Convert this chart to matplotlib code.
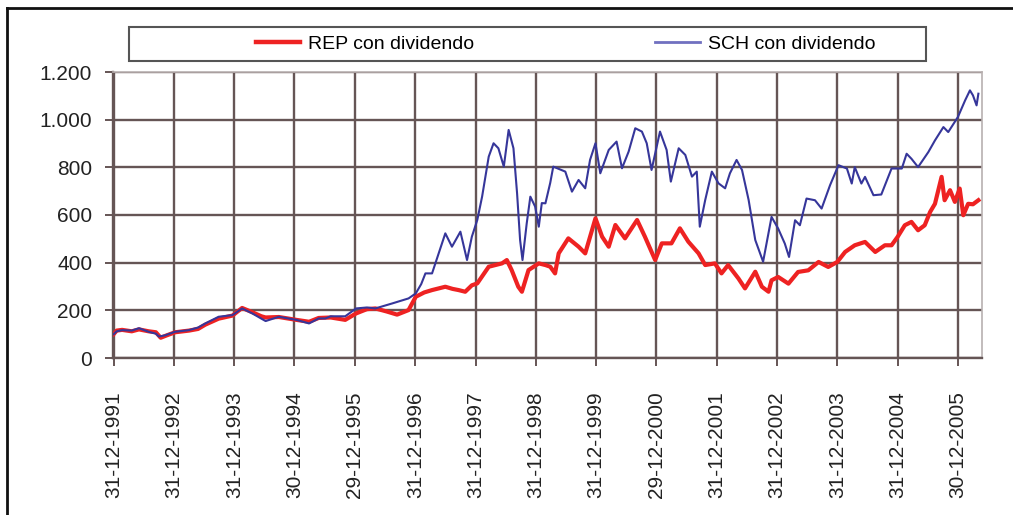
import numpy as np
import pandas as pd
import matplotlib
matplotlib.use("Agg")
import matplotlib.pyplot as plt
from matplotlib.lines import Line2D
from matplotlib.patches import Rectangle
from matplotlib.ticker import FuncFormatter

plt.rcParams['font.family'] = ['Liberation Sans', 'DejaVu Sans']

# values (time as decimal years, 1992.0 = 31-12-1991)
sch_year = [1992.00, 1992.05, 1992.14, 1992.30, 1992.42, 1992.58, 1992.70, 1992.75, 1992.85,
            1993.02, 1993.25, 1993.40, 1993.52, 1993.74, 1993.97, 1994.13, 1994.30, 1994.45,
            1994.52, 1994.74, 1995.03, 1995.24, 1995.40, 1995.51, 1995.60, 1995.84, 1996.02,
            1996.20, 1996.34, 1996.62, 1996.89, 1997.01, 1997.10, 1997.17, 1997.28, 1997.39,
            1997.50, 1997.61, 1997.75, 1997.86, 1997.94, 1998.03, 1998.11, 1998.22, 1998.30,
            1998.38, 1998.47, 1998.55, 1998.63, 1998.69, 1998.74, 1998.78, 1998.85, 1998.91,
            1998.99, 1999.05, 1999.10, 1999.16, 1999.24, 1999.29, 1999.49, 1999.60, 1999.71,
            1999.82, 1999.90, 1999.99, 2000.07, 2000.21, 2000.34, 2000.43, 2000.54, 2000.65,
            2000.76, 2000.84, 2000.92, 2001.06, 2001.17, 2001.24, 2001.37, 2001.48, 2001.59,
            2001.67, 2001.72, 2001.81, 2001.92, 2002.03, 2002.14, 2002.22, 2002.33, 2002.42,
            2002.53, 2002.64, 2002.77, 2002.91, 2003.02, 2003.13, 2003.20, 2003.30, 2003.38,
            2003.49, 2003.63, 2003.74, 2003.88, 2004.02, 2004.16, 2004.24, 2004.29, 2004.40,
            2004.46, 2004.60, 2004.73, 2004.90, 2005.07, 2005.15, 2005.23, 2005.34, 2005.51,
            2005.62, 2005.76, 2005.84, 2006.00, 2006.12, 2006.20, 2006.25, 2006.31, 2006.34]
sch_value = [100, 112, 117, 115, 125, 110, 102, 90, 95,
             110, 117, 128, 145, 173, 180, 208, 187, 165,
             155, 173, 160, 145, 166, 166, 175, 175, 208,
             212, 208, 229, 250, 271, 310, 355, 355, 439,
             523, 467, 530, 411, 509, 579, 677, 845, 901,
             880, 803, 957, 880, 691, 495, 411, 565, 677,
             635, 551, 650, 649, 735, 803, 782, 698, 747,
             712, 831, 901, 775, 873, 908, 796, 866, 964,
             950, 901, 789, 950, 873, 740, 880, 852, 761,
             782, 551, 663, 782, 733, 712, 775, 831, 789,
             663, 495, 404, 592, 543, 480, 424, 578, 557,
             669, 662, 627, 725, 809, 795, 732, 801, 732,
             760, 683, 686, 795, 795, 857, 836, 801, 864,
             913, 969, 948, 1011, 1081, 1123, 1102, 1060, 1109]

rep_year = [1992.00, 1992.05, 1992.14, 1992.30, 1992.42, 1992.58, 1992.70, 1992.78, 1992.88,
            1993.02, 1993.25, 1993.40, 1993.52, 1993.74, 1993.97, 1994.13, 1994.30, 1994.45,
            1994.52, 1994.74, 1995.03, 1995.24, 1995.40, 1995.60, 1995.84, 1996.02, 1996.20,
            1996.34, 1996.53, 1996.70, 1996.89, 1997.01, 1997.15, 1997.28, 1997.50, 1997.62,
            1997.72, 1997.83, 1997.94, 1998.03, 1998.22, 1998.44, 1998.52, 1998.60, 1998.71,
            1998.77, 1998.88, 1999.05, 1999.16, 1999.24, 1999.32, 1999.38, 1999.54, 1999.71,
            1999.82, 1999.99, 2000.10, 2000.21, 2000.32, 2000.48, 2000.68, 2000.81, 2000.98,
            2001.09, 2001.25, 2001.39, 2001.53, 2001.70, 2001.81, 2001.97, 2002.08, 2002.19,
            2002.36, 2002.47, 2002.64, 2002.75, 2002.86, 2002.91, 2003.02, 2003.19, 2003.35,
            2003.52, 2003.69, 2003.85, 2004.00, 2004.13, 2004.29, 2004.46, 2004.63, 2004.79,
            2004.90, 2005.00, 2005.12, 2005.23, 2005.34, 2005.45, 2005.54, 2005.62, 2005.73,
            2005.78, 2005.87, 2005.95, 2006.03, 2006.09, 2006.17, 2006.25, 2006.34]
rep_value = [100, 115, 118, 112, 120, 112, 108, 85, 95,
             108, 115, 122, 140, 165, 178, 210, 192, 175,
             170, 172, 160, 152, 168, 170, 160, 187, 205,
             208, 195, 182, 201, 257, 275, 285, 299, 290,
             285, 278, 305, 313, 383, 397, 411, 369, 299,
             278, 369, 397, 390, 383, 355, 439, 502, 467,
             439, 586, 509, 467, 558, 502, 579, 509, 411,
             481, 481, 544, 488, 439, 390, 397, 355, 390,
             334, 292, 362, 299, 278, 326, 340, 312, 361,
             368, 403, 382, 403, 445, 473, 487, 445, 473,
             473, 508, 557, 571, 536, 557, 613, 647, 760,
             662, 704, 655, 711, 599, 647, 645, 662]

tick_dates = ['1991-12-31', '1992-12-31', '1993-12-31', '1994-12-30', '1995-12-29',
              '1996-12-31', '1997-12-31', '1998-12-31', '1999-12-31', '2000-12-29',
              '2001-12-31', '2002-12-31', '2003-12-31', '2004-12-31', '2005-12-30']
tick_labels = ['31-12-1991', '31-12-1992', '31-12-1993', '30-12-1994', '29-12-1995',
               '31-12-1996', '31-12-1997', '31-12-1998', '31-12-1999', '29-12-2000',
               '31-12-2001', '31-12-2002', '31-12-2003', '31-12-2004', '30-12-2005']

base = pd.Timestamp('1991-12-31')
def to_date(years):
    return base + pd.to_timedelta((np.array(years) - 1992.0) * 365.25, unit='D')

fig = plt.figure(figsize=(10.13, 5.15), dpi=100)
ax = fig.add_axes([113/1013, 1 - 358/515, (982-113)/1013, (358-72)/515])

grid_col = '#655555'
ax.plot(to_date(rep_year), rep_value, color='#ee2222', lw=3.0, zorder=3)
ax.plot(to_date(sch_year), sch_value, color='#36369a', lw=1.5, zorder=4)

ax.set_ylim(0, 1200)
ax.set_xlim(pd.Timestamp('1991-12-27'), to_date([2006.40])[0])
ax.set_yticks(range(0, 1201, 200))
ax.yaxis.set_major_formatter(FuncFormatter(lambda v, p: f"{int(v):,}".replace(',', '.')))
ax.set_xticks(pd.to_datetime(tick_dates))
ax.set_xticklabels(tick_labels, rotation=90)

ax.grid(True, color=grid_col, lw=1.7)
ax.set_axisbelow(True)
ax.tick_params(axis='y', length=6, width=1.4, color=grid_col, pad=9, labelsize=15, labelcolor='#222222')
ax.tick_params(axis='x', length=6, width=1.4, color=grid_col, pad=18, labelsize=15, labelcolor='#222222')
for side in ['left', 'bottom']:
    ax.spines[side].set_color(grid_col)
    ax.spines[side].set_linewidth(1.7)
for side in ['top', 'right']:
    ax.spines[side].set_color('#b8b0b0')
    ax.spines[side].set_linewidth(1.2)

# legend box and entries
fig.patches.append(Rectangle((129/1013, 1 - 61/515), (926-129)/1013, 34/515,
                             transform=fig.transFigure, fill=False,
                             edgecolor='#555555', lw=1.5))
handles = [Line2D([], [], color='#ee2222', lw=3.2),
           Line2D([], [], color='#7070c0', lw=2.0)]
fig.legend(handles, ['REP con dividendo', 'SCH con dividendo'],
           loc='center left', bbox_to_anchor=(246/1013, 1 - 44/515),
           ncol=2, frameon=False, fontsize=14, borderpad=0,
           handlelength=2.3, handletextpad=0.4, columnspacing=9.3)

# outer frame
fig.add_artist(Line2D([7/1013, 7/1013], [0, 1 - 8/515], color='#111111', lw=2,
                      transform=fig.transFigure))
fig.add_artist(Line2D([7/1013, 1], [1 - 8/515, 1 - 8/515], color='#111111', lw=2,
                      transform=fig.transFigure))

fig.savefig('out.png', dpi=100)
